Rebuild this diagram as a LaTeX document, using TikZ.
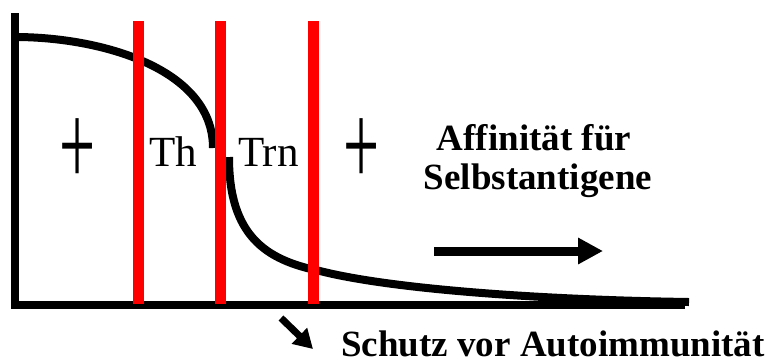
\documentclass[tikz,border=0pt]{standalone}
\usepackage{fontspec}
\setmainfont{Liberation Serif}
\usetikzlibrary{arrows.meta}
\begin{document}
\begin{tikzpicture}[x=1pt,y=-1pt,
  axis/.style={line width=8pt},
  curve/.style={line width=8pt},
  redline/.style={draw={rgb,255:red,255;green,0;blue,0},line width=11pt},
  lbl/.style={font=\fontsize{43}{50}\selectfont,inner sep=0pt,anchor=base},
  boldlbl/.style={font=\fontsize{37}{44}\selectfont\bfseries,inner sep=0pt,anchor=base},
  plussign/.style={font=\fontsize{64}{70}\selectfont,inner sep=0pt},
]
\useasboundingbox (0,0) rectangle (770,360);
% axes
\draw[axis] (15,13) -- (15,305) -- (685,305);
% curve
\draw[curve] (15,37) .. controls (100,37) and (213,68) .. (213,148);
\draw[curve] (229,157) .. controls (229,235) and (265,260) .. (320,271)
  .. controls (395,290) and (550,300) .. (689,302);
% red lines
\draw[redline] (138.5,21) -- (138.5,304);
\draw[redline] (220.5,21) -- (220.5,304);
\draw[redline] (313.5,21) -- (313.5,304);
% labels
\node[plussign] (p1) at (78,152) {\scalebox{1}[1.85]{+}};
\node[plussign] (p2) at (362,152) {\scalebox{1}[1.85]{+}};
\node[lbl] (th) at (173,166) {Th};
\node[lbl] (trn) at (268.5,166) {Trn};
\node[boldlbl] (aff) at (534,150) {Affinität für};
\node[boldlbl] (selb) at (538,189) {Selbstantigene};
\node[boldlbl,anchor=base west] (schutz) at (341,356) {Schutz vor Autoimmunität};
% arrows
\coordinate (a1) at (434,251);
\coordinate (a2) at (603,251);
\draw[line width=9pt,-{Triangle[length=25pt,width=25pt]}] (a1) -- (a2);
\coordinate (b1) at (281,318);
\coordinate (b2) at (313,349);
\draw[line width=7pt,-{Triangle[length=19pt,width=21pt]}] (b1) -- (b2);
\end{tikzpicture}
\end{document}
